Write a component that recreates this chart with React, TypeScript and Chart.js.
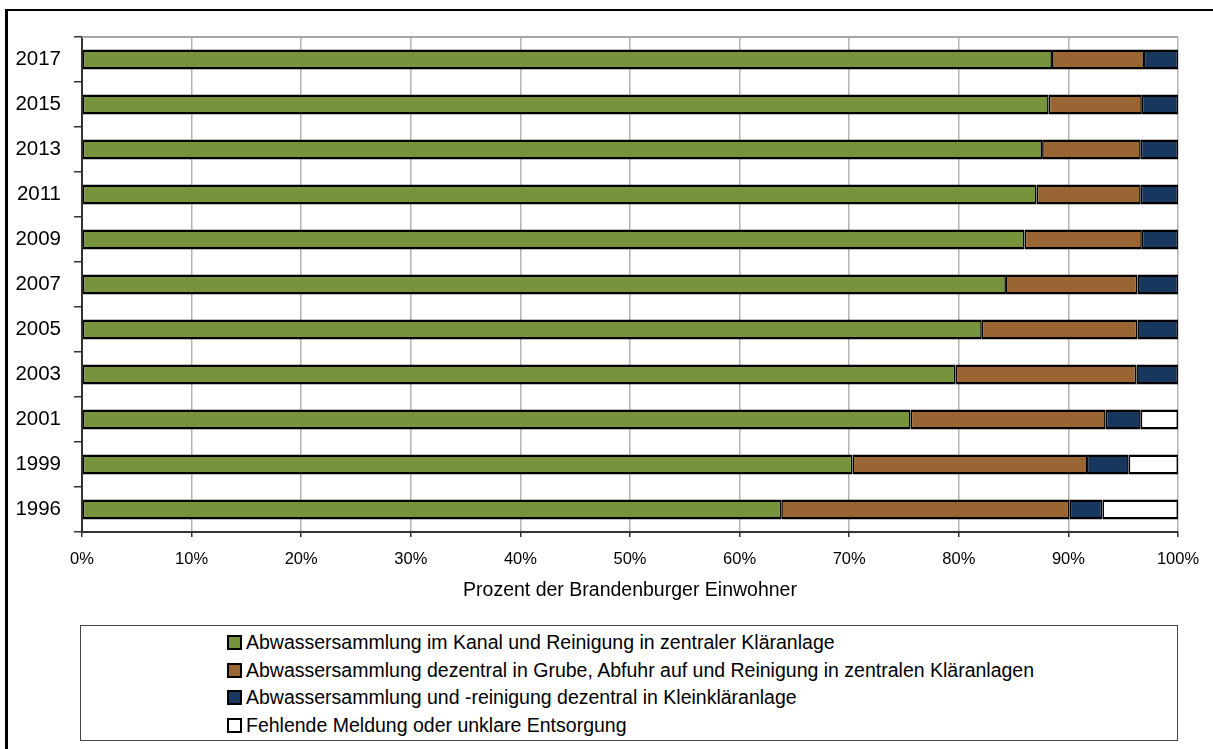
import React, { useEffect, useRef } from "react";
import { Chart, registerables } from "chart.js";

Chart.register(...registerables);

// Share of Brandenburg residents by type of wastewater disposal (percent)
const years = ["2017", "2015", "2013", "2011", "2009", "2007", "2005", "2003", "2001", "1999", "1996"];
const kanalZentral = [88.5, 88.2, 87.6, 87.1, 86.0, 84.3, 82.1, 79.7, 75.6, 70.3, 63.8];
const grubeZentral = [8.4, 8.5, 9.0, 9.5, 10.7, 12.0, 14.2, 16.5, 17.8, 21.4, 26.3];
const kleinklaeranlage = [3.1, 3.3, 3.4, 3.4, 3.3, 3.7, 3.7, 3.8, 3.2, 3.8, 3.0];
const unklar = [0, 0, 0, 0, 0, 0, 0, 0, 3.4, 4.5, 6.9];

const seriesLabels = [
  "Abwassersammlung im Kanal und Reinigung in zentraler Kläranlage",
  "Abwassersammlung dezentral in Grube, Abfuhr auf und Reinigung in zentralen Kläranlagen",
  "Abwassersammlung und -reinigung dezentral in Kleinkläranlage",
  "Fehlende Meldung oder unklare Entsorgung",
];
const seriesColors = ["#77933C", "#996633", "#17375E", "#FFFFFF"];
const seriesValues = [kanalZentral, grubeZentral, kleinklaeranlage, unklar];

const xTicks = [0, 10, 20, 30, 40, 50, 60, 70, 80, 90, 100];

const FONT = "'Liberation Sans', Arial, Helvetica, sans-serif";

// grey top edge of the plot area
const plotFrame = {
  id: "plotFrame",
  beforeDatasetsDraw(chart: any) {
    const { ctx, chartArea } = chart;
    ctx.save();
    ctx.strokeStyle = "#a6a6a6";
    ctx.lineWidth = 2;
    ctx.beginPath();
    ctx.moveTo(chartArea.left, chartArea.top);
    ctx.lineTo(chartArea.right, chartArea.top);
    ctx.stroke();
    ctx.restore();
  },
};

export default function App() {
  const canvasRef = useRef<HTMLCanvasElement | null>(null);

  useEffect(() => {
    if (!canvasRef.current) return;
    const chart = new Chart(canvasRef.current, {
      type: "bar",
      data: {
        labels: years,
        datasets: seriesValues.map((vals, i) => ({
          label: seriesLabels[i],
          data: vals.map((v) => (v === 0 ? null : v)),
          backgroundColor: seriesColors[i],
          borderColor: "#000000",
          borderWidth: { top: 2.5, bottom: 2.5, left: 1.6, right: 1.6 },
          borderSkipped: false,
          barPercentage: 0.44,
          categoryPercentage: 1,
        })),
      },
      options: {
        indexAxis: "y",
        animation: false,
        responsive: false,
        maintainAspectRatio: false,
        layout: { padding: { top: 37, right: 35, left: 0, bottom: 0 } },
        plugins: {
          legend: { display: false },
          tooltip: { enabled: false },
        },
        scales: {
          x: {
            stacked: true,
            min: 0,
            max: 100,
            afterBuildTicks(scale: any) {
              scale.ticks = xTicks.map((v) => ({ value: v }));
            },
            afterFit(scale: any) {
              scale.height = 88;
            },
            ticks: {
              callback: (v: any) => v + "%",
              color: "#000",
              font: { family: FONT, size: 16.5 },
              padding: 13,
              maxRotation: 0,
            },
            grid: {
              color: "#b3b3b3",
              lineWidth: 1.5,
              tickLength: 5,
              tickColor: "#333",
              drawOnChartArea: true,
            },
            border: { display: true, color: "#333", width: 2 },
            title: {
              display: true,
              text: "Prozent der Brandenburger Einwohner",
              color: "#000",
              font: { family: FONT, size: 19.5 },
              padding: { top: 0, bottom: 18 },
            },
          },
          y: {
            stacked: true,
            afterFit(scale: any) {
              scale.width = 82;
            },
            ticks: {
              color: "#000",
              font: { family: FONT, size: 20.5 },
              padding: 13,
            },
            grid: {
              offset: true,
              drawOnChartArea: false,
              color: "#333",
              lineWidth: 1.5,
              tickLength: 8,
            },
            border: { display: true, color: "#333", width: 2 },
          },
        },
      },
      plugins: [plotFrame],
    });
    return () => chart.destroy();
  }, []);

  return (
    <div
      style={{
        position: "fixed",
        left: 0,
        top: 0,
        width: 1213,
        height: 749,
        overflow: "hidden",
        background: "#fff",
      }}
    >
      <div
        style={{
          position: "absolute",
          left: 5,
          top: 9,
          width: 1400,
          height: 900,
          border: "2px solid #000",
          borderLeftWidth: 3,
        }}
      />
      <canvas
        ref={canvasRef}
        width={1213}
        height={620}
        style={{ position: "absolute", left: 0, top: 0, width: 1213, height: 620 }}
      />
      <div
        style={{
          position: "absolute",
          left: 80,
          top: 625,
          width: 1098,
          height: 116,
          boxSizing: "border-box",
          border: "1.5px solid #444",
          background: "#fff",
        }}
      >
        {seriesLabels.map((label, i) => (
          <div
            key={label}
            style={{
              position: "absolute",
              left: 146,
              top: 3 + i * 27.7,
              height: 27,
              display: "flex",
              alignItems: "center",
              whiteSpace: "nowrap",
              fontFamily: FONT,
              fontSize: 19.5,
              color: "#000",
            }}
          >
            <span
              style={{
                display: "inline-block",
                width: 15,
                height: 15,
                boxSizing: "border-box",
                border: "2px solid #000",
                background: seriesColors[i],
                marginRight: 4,
              }}
            />
            {label}
          </div>
        ))}
      </div>
    </div>
  );
}
